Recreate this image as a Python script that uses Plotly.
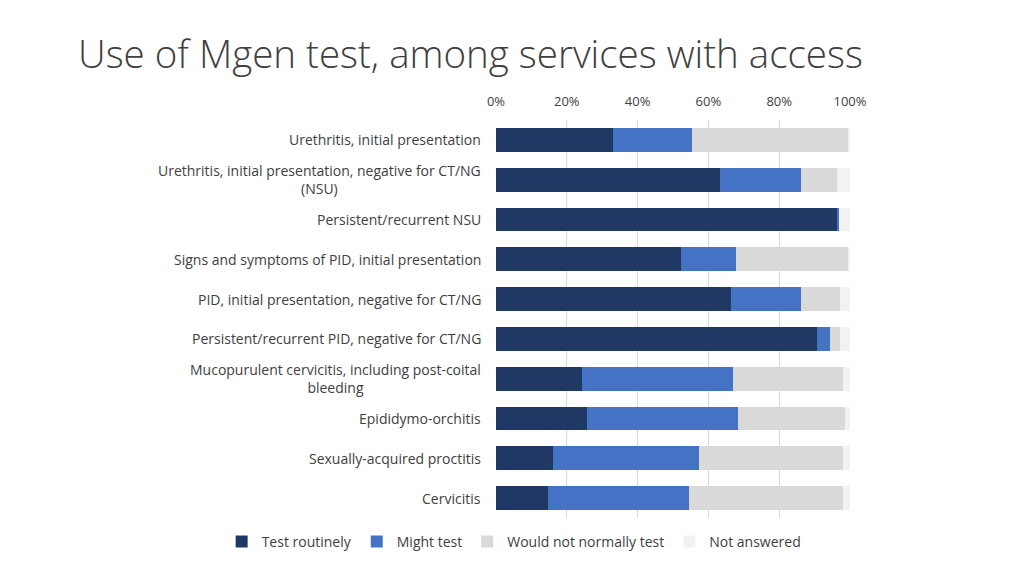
import plotly.graph_objects as go

categories = [
    "Urethritis, initial presentation",
    "Urethritis, initial presentation, negative for CT/NG<br>(NSU)",
    "Persistent/recurrent NSU",
    "Signs and symptoms of PID, initial presentation",
    "PID, initial presentation, negative for CT/NG",
    "Persistent/recurrent PID, negative for CT/NG",
    "Mucopurulent cervicitis, including post-coital<br>bleeding",
    "Epididymo-orchitis",
    "Sexually-acquired proctitis",
    "Cervicitis",
]
test_routinely = [33.0, 63.3, 96.4, 52.3, 66.3, 90.6, 24.3, 25.8, 16.2, 14.7]
might_test = [22.3, 22.8, 0.6, 15.5, 19.8, 3.7, 42.7, 42.7, 41.1, 39.7]
would_not = [44.1, 10.3, 0.0, 31.6, 11.1, 2.9, 30.9, 30.1, 40.6, 43.5]
not_answered = [0.6, 3.6, 3.0, 0.6, 2.8, 2.8, 2.1, 1.4, 2.1, 2.1]

series = [
    ("Test routinely", test_routinely, "#203864"),
    ("Might test", might_test, "#4472C4"),
    ("Would not normally test", would_not, "#D9D9D9"),
    ("Not answered", not_answered, "#F2F2F2"),
]

ids = list(range(len(categories)))
FONT = "Open Sans, Liberation Sans, sans-serif"

fig = go.Figure()
for name, vals, color in series:
    fig.add_trace(go.Bar(
        y=ids, x=vals, name=name, orientation="h",
        marker=dict(color=color, line=dict(width=0)),
    ))

for i, lab in zip(ids, categories):
    fig.add_annotation(
        x=0, xref="paper", y=i, yref="y", text=lab, showarrow=False,
        xanchor="right", yanchor="middle", align="center", xshift=-13,
        font=dict(family=FONT, size=14, color="#404040"),
    )

fig.update_layout(
    width=1024, height=576,
    barmode="stack", bargap=0.4,
    paper_bgcolor="white", plot_bgcolor="white",
    margin=dict(l=496, r=174, t=120, b=58, autoexpand=False),
    title=dict(
        text="Use of Mgen test, among services with access",
        xref="container", yref="container",
        x=78 / 1024, xanchor="left", y=1 - 55 / 576, yanchor="middle",
        pad=dict(l=0, r=0, t=0, b=0),
        font=dict(family=FONT, size=38.5, color="#404040", weight=300),
    ),
    xaxis=dict(
        side="top", range=[0, 100], tickvals=[0, 20, 40, 60, 80, 100],
        ticktext=["0%", "20%", "40%", "60%", "80%", "100%"],
        showgrid=True, gridcolor="#D9D9D9", gridwidth=1,
        zeroline=False, showline=False, ticks="",
        ticklabelstandoff=10,
        tickfont=dict(family=FONT, size=13, color="#404040"),
    ),
    yaxis=dict(
        autorange="reversed", showticklabels=False, showgrid=False,
        zeroline=False, showline=False, ticks="",
    ),
    legend=dict(
        orientation="h", x=-0.775, xanchor="left",
        y=-0.06, yanchor="middle",
        font=dict(family=FONT, size=14, color="#404040"),
        traceorder="normal",
    ),
    showlegend=True,
)

fig.write_html("out.html", config={"displayModeBar": False},
               post_script="document.body.style.margin='0';")
